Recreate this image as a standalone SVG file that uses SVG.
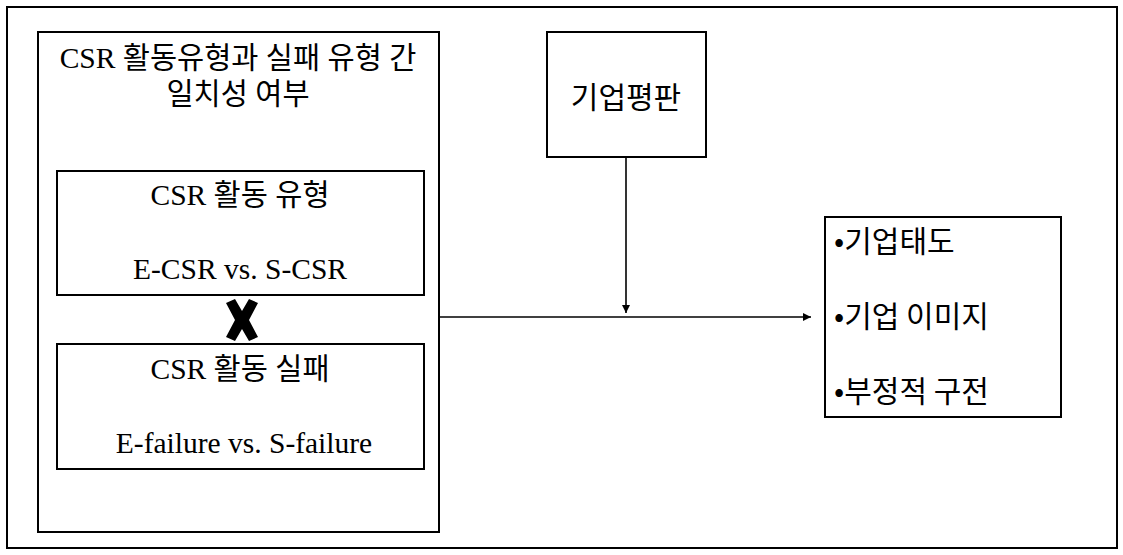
<svg xmlns="http://www.w3.org/2000/svg" width="1123" height="555" viewBox="0 0 1123 555">
<style>
.box{fill:#fff;stroke:#000;stroke-width:2}
.serif{font-family:"Liberation Serif","Noto Sans CJK KR",serif;font-size:29.5px;fill:#000}
.sans{font-family:"Noto Sans CJK KR","Liberation Sans",sans-serif;font-size:30px;fill:#000}
.conn{stroke:#000;stroke-width:1.6;fill:none}
</style>
<defs>
<marker id="ah" viewBox="0 0 10 10" refX="10" refY="5" markerWidth="9" markerHeight="8" markerUnits="userSpaceOnUse" orient="auto">
<path d="M0,0 L10,5 L0,10 z" fill="#000"/>
</marker>
</defs>
<rect x="0" y="0" width="1123" height="555" fill="#fff"/>
<rect id="frame" x="7" y="7" width="1110" height="541" fill="none" stroke="#000" stroke-width="2"/>
<g id="congruence">
<rect class="box" x="38" y="32" width="401" height="500"/>
<text class="serif" x="238" y="68" text-anchor="middle">CSR 활동유형과 실패 유형 간</text>
<text class="serif" x="238" y="104" text-anchor="middle">일치성 여부</text>
</g>
<g id="csr-type">
<rect class="box" x="57" y="171" width="367" height="124"/>
<text class="serif" x="240" y="205" text-anchor="middle">CSR 활동 유형</text>
<text class="serif" x="240" y="279" text-anchor="middle">E-CSR vs. S-CSR</text>
</g>
<g id="cross">
<path d="M226,303 L235,299 L242,311 L249,299 L258,303 L249,320 L258,337 L249,341 L242,329 L235,341 L226,337 L235,320 z" fill="#000"/>
</g>
<g id="csr-failure">
<rect class="box" x="57" y="344" width="367" height="125"/>
<text class="serif" x="240" y="379" text-anchor="middle">CSR 활동 실패</text>
<text class="serif" x="244" y="453" text-anchor="middle">E-failure vs. S-failure</text>
</g>
<g id="reputation">
<rect class="box" x="547" y="32" width="159" height="125"/>
<text class="sans" x="626" y="108" text-anchor="middle">기업평판</text>
</g>
<g id="outcomes">
<rect class="box" x="825" y="217" width="236" height="200"/>
<text class="sans" x="834" y="252">•기업태도</text>
<text class="sans" x="834" y="327">•기업 이미지</text>
<text class="sans" x="834" y="402">•부정적 구전</text>
</g>
<g id="connectors">
<line class="conn" x1="439" y1="317" x2="811" y2="317" marker-end="url(#ah)"/>
<line class="conn" x1="626" y1="157" x2="626" y2="313" marker-end="url(#ah)"/>
</g>
</svg>
